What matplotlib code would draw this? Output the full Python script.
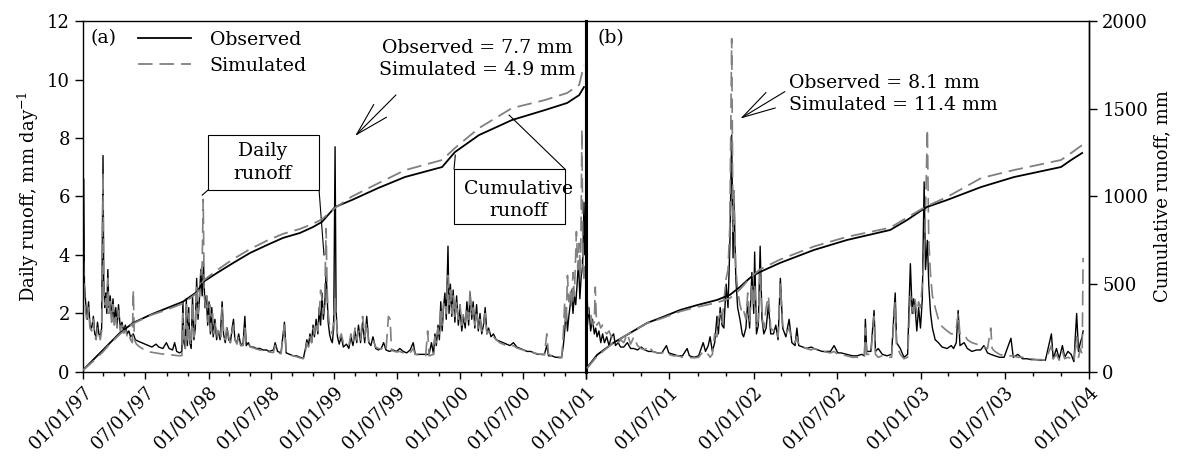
import pandas as pd
import matplotlib
matplotlib.use("Agg")
import matplotlib.pyplot as plt
from matplotlib.patches import Rectangle, FancyArrowPatch

plt.rcParams['font.family'] = 'DejaVu Serif'
plt.rcParams['mathtext.fontset'] = 'dejavuserif'
plt.rcParams['lines.scale_dashes'] = False

# ---- panel (a): 01/01/1997 - 01/01/2001, days counted from 1997-01-01 ----
obs_a_day = [0, 2, 4, 8, 12, 16, 20, 25, 30, 34, 38, 42, 46, 50, 54, 58, 60, 63, 66, 69,
             72, 75, 79, 83, 87, 91, 95, 99, 103, 108, 113, 118, 123, 128, 133, 138, 146, 152, 160, 170,
             180, 190, 200, 212, 220, 232, 242, 250, 260, 266, 272, 280, 287, 290, 293, 297, 300, 303, 307, 310,
             314, 318, 322, 326, 330, 334, 338, 342, 346, 350, 354, 358, 362, 366, 370, 374, 378, 383, 388, 393,
             398, 404, 408, 413, 418, 423, 428, 433, 437, 441, 447, 452, 458, 465, 470, 474, 480, 486, 495, 504,
             514, 523, 533, 540, 553, 558, 565, 575, 585, 590, 600, 611, 620, 630, 640, 646, 650, 655, 659, 664,
             668, 672, 677, 682, 686, 690, 694, 698, 702, 706, 709, 712, 716, 720, 724, 728, 732, 735, 739, 744,
             750, 756, 765, 772, 778, 784, 790, 795, 800, 806, 812, 818, 824, 830, 836, 842, 850, 858, 866, 873,
             880, 890, 900, 911, 920, 930, 940, 950, 959, 965, 975, 985, 995, 1005, 1012, 1018, 1022, 1026, 1031, 1035,
             1039, 1043, 1047, 1051, 1055, 1060, 1063, 1067, 1071, 1075, 1080, 1085, 1090, 1095, 1100, 1105, 1110, 1115, 1120, 1124,
             1129, 1133, 1138, 1143, 1148, 1153, 1158, 1163, 1168, 1173, 1178, 1185, 1192, 1200, 1210, 1220, 1230, 1240, 1250, 1260,
             1270, 1280, 1290, 1300, 1310, 1320, 1330, 1340, 1347, 1352, 1362, 1372, 1382, 1390, 1395, 1399, 1403, 1407, 1411, 1415,
             1419, 1423, 1427, 1431, 1435, 1439, 1443, 1447, 1451, 1455, 1458, 1460]
obs_a_val = [6.6, 6.6, 3.0, 2.3, 1.8, 2.4, 1.6, 1.5, 1.9, 1.3, 1.2, 1.7, 1.3, 1.2, 1.5, 7.4, 3.2, 2.2, 2.7, 2.0,
             3.5, 2.2, 2.6, 1.8, 2.5, 1.7, 2.2, 1.6, 2.3, 1.5, 1.7, 1.4, 1.6, 1.3, 1.4, 1.2, 1.3, 1.1, 1.05, 1.0,
             0.95, 0.9, 0.85, 0.95, 0.85, 0.8, 1.0, 0.8, 0.75, 1.0, 0.7, 0.65, 0.7, 2.4, 1.0, 0.8, 2.5, 0.9, 2.2, 1.0,
             0.8, 2.6, 1.1, 1.5, 3.2, 1.8, 2.5, 3.5, 2.6, 3.7, 2.2, 2.6, 1.6, 2.4, 1.3, 2.2, 1.2, 1.8, 1.1, 1.4,
             1.1, 2.4, 1.3, 1.0, 1.5, 1.1, 1.0, 1.5, 1.8, 1.1, 1.0, 1.3, 0.9, 1.0, 1.9, 0.9, 1.0, 0.85, 0.85, 0.8,
             0.8, 0.75, 0.75, 0.7, 0.75, 1.0, 0.7, 0.65, 1.7, 0.65, 0.6, 0.55, 0.55, 0.5, 0.47, 0.8, 1.1, 0.9, 1.3, 1.0,
             1.6, 1.2, 1.8, 1.3, 2.2, 1.6, 2.7, 1.8, 2.3, 3.4, 2.6, 1.7, 1.3, 1.1, 1.0, 1.5, 7.7, 2.1, 1.2, 0.95,
             1.2, 0.85, 0.95, 0.8, 1.2, 0.9, 1.4, 1.0, 1.6, 1.0, 1.7, 1.0, 1.9, 1.0, 0.9, 1.2, 0.8, 0.75, 0.8, 1.0,
             0.75, 0.7, 0.75, 0.7, 0.8, 0.7, 0.65, 0.75, 1.0, 0.6, 0.6, 0.6, 0.6, 0.6, 1.0, 0.6, 1.3, 0.9, 1.6, 1.1,
             2.4, 1.4, 2.2, 2.7, 1.8, 4.3, 2.0, 3.0, 1.9, 2.8, 1.7, 2.6, 1.6, 2.2, 1.4, 1.9, 1.5, 2.4, 1.6, 2.7,
             1.8, 2.4, 1.5, 2.3, 1.4, 2.0, 1.3, 1.6, 2.2, 1.3, 1.5, 1.2, 1.3, 1.1, 1.05, 1.0, 0.95, 0.9, 1.0, 0.85,
             0.8, 0.75, 0.7, 0.7, 0.65, 0.6, 0.6, 0.6, 0.9, 0.55, 0.55, 0.5, 0.5, 0.5, 0.9, 1.4, 2.2, 1.4, 1.9, 2.3,
             2.8, 2.0, 2.6, 2.3, 3.0, 3.8, 2.5, 3.3, 3.6, 5.8, 4.0, 4.6]

sim_a_day = [0, 2, 4, 8, 12, 16, 20, 25, 30, 34, 38, 42, 46, 50, 54, 58, 60, 63, 66, 69,
             72, 75, 79, 83, 87, 91, 95, 99, 103, 108, 113, 118, 123, 128, 133, 138, 143, 146, 149, 155,
             165, 175, 185, 195, 210, 225, 240, 255, 270, 280, 287, 290, 293, 297, 300, 303, 307, 310, 314, 318,
             322, 326, 330, 334, 338, 342, 346, 349, 352, 356, 360, 364, 368, 372, 376, 380, 385, 390, 395, 400,
             404, 408, 413, 418, 423, 428, 433, 437, 441, 447, 452, 458, 465, 470, 474, 480, 486, 495, 504, 514,
             523, 533, 540, 553, 558, 565, 575, 585, 590, 600, 611, 620, 630, 640, 646, 650, 655, 659, 664, 668,
             672, 677, 682, 686, 690, 694, 698, 702, 706, 709, 712, 716, 720, 724, 728, 732, 735, 739, 744, 750,
             756, 765, 772, 778, 784, 790, 795, 800, 806, 812, 818, 824, 830, 836, 842, 850, 858, 866, 873, 880,
             887, 892, 896, 900, 911, 920, 930, 940, 950, 959, 965, 975, 985, 995, 1001, 1005, 1018, 1022, 1026, 1031,
             1035, 1039, 1043, 1047, 1051, 1055, 1060, 1063, 1067, 1071, 1075, 1080, 1085, 1090, 1095, 1100, 1105, 1110, 1115, 1120,
             1124, 1129, 1133, 1138, 1143, 1148, 1153, 1158, 1163, 1168, 1173, 1178, 1185, 1192, 1200, 1210, 1220, 1230, 1240, 1250,
             1260, 1270, 1280, 1290, 1300, 1310, 1320, 1330, 1340, 1347, 1352, 1362, 1372, 1382, 1390, 1395, 1399, 1403, 1407, 1411,
             1415, 1419, 1423, 1427, 1433, 1437, 1441, 1445, 1449, 1452, 1455, 1458, 1460]
sim_a_val = [4.5, 3.5, 2.8, 2.0, 1.7, 2.2, 1.5, 1.4, 1.8, 1.2, 1.1, 1.5, 1.3, 1.1, 1.4, 6.8, 3.0, 2.3, 2.5, 2.1,
             3.2, 2.0, 2.4, 1.7, 2.3, 1.6, 2.0, 1.5, 2.1, 1.4, 1.6, 1.3, 1.5, 1.2, 1.3, 1.1, 1.0, 2.8, 1.1, 0.95,
             0.85, 0.78, 0.72, 0.68, 0.65, 0.62, 0.6, 0.58, 0.56, 0.55, 0.56, 2.0, 1.1, 0.8, 2.3, 1.0, 2.0, 1.1, 0.9, 2.4,
             1.2, 1.6, 3.0, 2.0, 2.6, 3.3, 3.7, 5.9, 2.6, 2.2, 2.6, 1.7, 2.3, 1.4, 2.0, 1.3, 1.7, 1.2, 1.5, 1.2,
             2.2, 1.4, 1.1, 1.6, 1.2, 1.0, 1.4, 1.6, 1.1, 0.95, 1.2, 0.9, 0.9, 1.5, 0.9, 0.95, 0.85, 0.82, 0.78, 0.75,
             0.72, 0.7, 0.68, 0.66, 0.9, 0.65, 0.62, 1.6, 0.62, 0.58, 0.55, 0.52, 0.48, 0.45, 0.7, 1.0, 0.85, 1.2, 1.0, 1.5,
             1.3, 1.7, 1.4, 2.0, 2.8, 2.5, 2.0, 2.6, 4.9, 2.8, 2.0, 1.6, 1.4, 1.3, 1.8, 2.6, 1.9, 1.3, 1.1, 1.3,
             1.0, 1.0, 0.9, 1.3, 1.0, 1.5, 1.1, 1.4, 1.1, 1.9, 1.2, 1.7, 1.0, 1.0, 1.1, 0.85, 0.8, 0.78, 0.85, 0.75,
             1.9, 1.8, 0.75, 0.72, 0.68, 0.7, 0.65, 0.62, 0.65, 0.8, 0.6, 0.58, 0.55, 0.55, 1.4, 0.55, 0.6, 1.2, 1.0, 1.5,
             1.3, 2.2, 1.6, 2.4, 2.4, 2.0, 3.3, 2.3, 2.8, 2.0, 2.6, 1.9, 2.4, 1.8, 2.3, 1.6, 2.0, 1.7, 2.2, 1.8,
             2.8, 1.9, 2.2, 1.6, 2.1, 1.5, 1.8, 1.4, 1.5, 2.0, 1.3, 1.4, 1.2, 1.2, 1.1, 1.0, 0.95, 0.9, 0.88, 0.9,
             0.82, 0.78, 0.74, 0.7, 0.68, 0.65, 0.62, 0.6, 0.58, 1.3, 0.6, 0.55, 0.5, 0.48, 0.48, 1.3, 2.4, 1.6, 3.3, 2.4,
             2.8, 2.2, 3.4, 2.6, 4.8, 3.5, 4.4, 3.3, 8.3, 3.6, 3.2, 3.6, 3.0]

cum_a_day = [0, 29, 58, 78, 107, 145, 195, 244, 290, 331, 349, 389, 436, 485, 534, 581, 630, 668, 694, 732,
             781, 857, 935, 1043, 1080, 1150, 1246, 1342, 1406, 1441, 1455]
cum_obs_a = [10, 68, 125, 165, 222, 279, 325, 364, 400, 456, 513, 564, 621, 678, 723, 764, 792, 826, 855, 940,
             980, 1048, 1111, 1168, 1253, 1350, 1436, 1493, 1533, 1578, 1624]
cum_sim_a = [10, 60, 115, 160, 215, 275, 322, 355, 390, 450, 520, 580, 643, 700, 748, 787, 815, 845, 870, 935,
             1000, 1075, 1150, 1208, 1276, 1390, 1504, 1550, 1590, 1636, 1749]

# ---- panel (b): 01/01/2001 - 01/01/2004, days counted from 2001-01-01 ----
obs_b_day = [0, 3, 6, 10, 14, 18, 21, 24, 28, 32, 36, 40, 45, 50, 55, 60, 64, 70, 75, 82,
             90, 97, 104, 112, 120, 128, 136, 145, 155, 165, 175, 180, 190, 200, 210, 220, 225, 235, 245, 255,
             260, 266, 270, 275, 280, 285, 288, 292, 296, 300, 305, 309, 313, 317, 320, 322, 326, 330, 335, 340,
             343, 348, 352, 356, 361, 365, 367, 371, 375, 379, 383, 387, 392, 397, 402, 408, 413, 418, 423, 428,
             435, 442, 448, 455, 459, 463, 472, 480, 490, 496, 505, 514, 522, 532, 540, 548, 555, 568, 580, 590,
             600, 606, 608, 611, 620, 627, 630, 636, 645, 655, 665, 673, 676, 684, 692, 700, 706, 710, 713, 716,
             720, 724, 728, 732, 736, 739, 743, 746, 750, 754, 760, 767, 775, 786, 795, 800, 806, 810, 814, 823,
             830, 840, 850, 859, 866, 874, 881, 890, 900, 910, 925, 930, 940, 950, 960, 969, 980, 990, 1000, 1013,
             1017, 1024, 1030, 1037, 1042, 1049, 1056, 1062, 1068, 1072, 1076, 1080, 1082]
obs_b_val = [2.5, 1.6, 2.2, 1.4, 1.8, 1.3, 1.5, 1.2, 1.4, 1.0, 1.3, 1.0, 1.2, 0.9, 1.2, 1.3, 0.9, 1.0, 0.85, 0.85,
             1.0, 0.8, 0.8, 0.75, 0.85, 0.75, 0.7, 0.7, 0.65, 0.65, 0.9, 0.65, 0.6, 0.55, 0.55, 0.8, 0.55, 0.5, 0.55, 1.0,
             0.7, 0.9, 1.2, 0.7, 1.0, 1.9, 1.3, 2.2, 1.6, 1.5, 3.0, 2.2, 4.3, 8.1, 3.9, 6.0, 3.2, 2.2, 1.8, 1.3,
             1.2, 1.5, 2.4, 1.5, 3.4, 2.0, 4.1, 1.3, 1.6, 4.3, 1.8, 1.3, 1.5, 2.3, 1.3, 1.3, 1.6, 1.1, 3.2, 1.5,
             1.2, 1.8, 1.0, 0.9, 1.5, 0.9, 0.85, 0.8, 0.85, 0.8, 0.75, 0.7, 0.7, 0.7, 0.9, 0.65, 0.65, 0.6, 0.55, 0.55,
             0.6, 0.55, 1.8, 0.7, 0.7, 2.1, 0.7, 0.8, 0.6, 0.55, 0.6, 2.7, 1.0, 0.8, 0.5, 0.6, 3.7, 2.0, 2.5, 2.3,
             1.4, 2.2, 1.5, 2.5, 6.5, 3.5, 4.5, 3.0, 2.0, 1.5, 1.1, 1.0, 0.85, 0.8, 0.9, 0.8, 1.0, 2.1, 0.9, 1.0,
             0.8, 0.7, 0.75, 0.75, 0.9, 0.65, 0.6, 0.55, 0.5, 0.5, 1.15, 0.5, 0.6, 0.45, 0.45, 0.42, 0.42, 0.4, 0.4, 1.3,
             0.45, 0.8, 0.45, 0.9, 0.5, 0.7, 0.6, 0.35, 2.0, 0.7, 1.0, 1.2, 1.4]

sim_b_day = [0, 3, 6, 10, 14, 18, 20, 23, 28, 32, 36, 40, 45, 50, 55, 60, 64, 70, 75, 82,
             90, 97, 104, 112, 120, 128, 136, 145, 155, 165, 175, 180, 190, 200, 210, 220, 235, 245, 255, 260,
             266, 270, 275, 280, 285, 288, 292, 296, 300, 305, 309, 313, 317, 320, 322, 326, 330, 335, 340, 343,
             348, 352, 356, 361, 365, 367, 371, 375, 379, 383, 387, 392, 397, 402, 408, 413, 418, 423, 428, 435,
             442, 448, 455, 459, 463, 472, 480, 490, 496, 505, 514, 522, 532, 540, 548, 555, 568, 580, 590, 600,
             606, 608, 611, 620, 627, 630, 636, 645, 655, 665, 673, 676, 684, 692, 700, 706, 710, 713, 716, 720,
             724, 728, 732, 736, 739, 743, 746, 750, 754, 760, 767, 775, 786, 795, 800, 806, 810, 814, 823, 830,
             840, 850, 859, 866, 874, 881, 884, 890, 900, 910, 925, 930, 940, 950, 960, 969, 980, 990, 1000, 1013,
             1017, 1024, 1030, 1037, 1042, 1049, 1056, 1062, 1068, 1072, 1076, 1080, 1082]
sim_b_val = [3.2, 2.3, 1.9, 2.0, 1.6, 1.7, 2.9, 1.6, 1.7, 1.5, 1.6, 1.4, 1.3, 1.4, 1.2, 1.2, 1.1, 1.0, 1.1, 1.0,
             1.3, 0.95, 1.2, 0.9, 0.8, 0.75, 0.9, 0.7, 0.65, 0.65, 0.7, 0.6, 0.55, 0.55, 0.5, 0.5, 0.48, 0.5, 0.7, 0.6,
             0.6, 0.5, 0.6, 1.3, 1.2, 1.8, 2.0, 1.7, 2.4, 3.2, 3.5, 5.0, 11.4, 4.8, 6.2, 3.5, 2.8, 2.3, 2.0, 2.1,
             1.8, 2.7, 1.7, 3.0, 2.2, 3.0, 1.5, 1.8, 3.5, 1.9, 1.5, 2.2, 2.6, 1.5, 1.4, 1.5, 1.2, 3.0, 1.6, 1.3,
             1.5, 1.1, 1.0, 1.2, 0.9, 0.85, 0.8, 0.75, 0.8, 0.75, 0.7, 0.68, 0.65, 0.7, 0.6, 0.6, 0.55, 0.5, 0.5, 0.48,
             0.5, 1.5, 0.6, 0.6, 1.9, 0.6, 0.5, 0.55, 0.5, 0.5, 2.4, 0.9, 0.6, 0.45, 0.5, 2.6, 2.2, 2.0, 2.5, 2.0,
             2.4, 2.2, 3.0, 4.0, 5.5, 8.3, 4.5, 3.3, 2.6, 2.2, 1.8, 1.55, 1.4, 1.3, 1.3, 1.5, 2.0, 1.3, 1.3, 1.1,
             1.0, 0.95, 0.9, 0.85, 0.8, 1.5, 0.8, 0.7, 0.6, 0.55, 0.55, 0.55, 0.5, 0.5, 0.45, 0.45, 0.42, 0.42, 0.4, 0.9,
             0.45, 0.6, 0.4, 0.7, 0.45, 0.5, 0.45, 0.35, 1.2, 0.5, 0.8, 0.6, 3.9]

cum_b_day = [2, 24, 59, 96, 133, 168, 205, 242, 285, 313, 335, 350, 361, 379, 422, 496, 568, 662, 699, 725,
             742, 786, 860, 932, 1034, 1056, 1080]
cum_obs_b = [23, 97, 165, 222, 279, 314, 353, 381, 410, 439, 484, 520, 545, 570, 621, 695, 752, 809, 866, 912,
             940, 980, 1054, 1111, 1168, 1208, 1248]
cum_sim_b = [20, 90, 165, 222, 278, 308, 345, 370, 395, 420, 470, 515, 545, 585, 640, 715, 770, 822, 880, 920,
             945, 997, 1105, 1151, 1208, 1248, 1293]

ticks_a = ['1997-01-01', '1997-07-01', '1998-01-01', '1998-07-01', '1999-01-01',
           '1999-07-01', '2000-01-01', '2000-07-01', '2001-01-01']
labels_a = ['01/01/97', '07/01/97', '01/01/98', '01/07/98', '01/01/99',
            '01/07/99', '01/01/00', '01/07/00', '01/01/01']
ticks_b = ['2001-01-01', '2001-07-01', '2002-01-01', '2002-07-01', '2003-01-01',
           '2003-07-01', '2004-01-01']
labels_b = ['', '01/07/01', '01/01/02', '01/07/02', '01/01/03', '01/07/03', '01/01/04']


def dates(start, days):
    return pd.Timestamp(start) + pd.to_timedelta(days, unit='D')


FS = 13      # tick labels
FT = 13.6    # annotations / legend
DASH = (10.5, 5)
GREY = '#808080'

fig = plt.figure(figsize=(11.78, 4.58), dpi=100)
axa = fig.add_axes([0.0705, 0.188, 0.427, 0.766])
axb = fig.add_axes([0.4975, 0.188, 0.427, 0.766])
axa2 = axa.twinx()
axb2 = axb.twinx()

# daily runoff
axa.plot(dates('1997-01-01', obs_a_day), obs_a_val, color='black', lw=1.0)
axa.plot(dates('1997-01-01', sim_a_day), sim_a_val, color=GREY, lw=1.2, dashes=DASH)
axb.plot(dates('2001-01-01', obs_b_day), obs_b_val, color='black', lw=1.0)
axb.plot(dates('2001-01-01', sim_b_day), sim_b_val, color=GREY, lw=1.2, dashes=DASH)

# cumulative runoff
l_obs, = axa2.plot(dates('1997-01-01', cum_a_day), cum_obs_a, color='black', lw=1.3)
l_sim, = axa2.plot(dates('1997-01-01', cum_a_day), cum_sim_a, color=GREY, lw=1.3, dashes=DASH)
axb2.plot(dates('2001-01-01', cum_b_day), cum_obs_b, color='black', lw=1.3)
axb2.plot(dates('2001-01-01', cum_b_day), cum_sim_b, color=GREY, lw=1.3, dashes=DASH)

for ax, tk, lb, lo, hi in [(axa, ticks_a, labels_a, '1997-01-01', '2001-01-01'),
                           (axb, ticks_b, labels_b, '2001-01-01', '2004-01-01')]:
    ax.set_xlim(pd.Timestamp(lo), pd.Timestamp(hi))
    ax.set_ylim(0, 12)
    ax.set_xticks(pd.to_datetime(tk))
    ax.set_xticklabels(lb, rotation=45, ha='right', rotation_mode='anchor', fontsize=FS)
    minors = pd.date_range(lo, hi, freq='2MS')
    ax.set_xticks(minors[~minors.month.isin([1, 7])], minor=True)
    ax.tick_params(axis='x', which='major', direction='out', length=5, width=1, pad=3)
    ax.tick_params(axis='x', which='minor', direction='out', length=3, width=1)
    for s in ax.spines.values():
        s.set_linewidth(1.0)

axa.set_yticks(range(0, 13, 2))
axa.tick_params(axis='y', direction='out', length=6, width=1, labelsize=FS)
axa.set_ylabel('Daily runoff, mm day$^{-1}$', fontsize=FS)
axa.spines['right'].set_linewidth(2.2)
axb.spines['left'].set_linewidth(2.2)
axb.tick_params(axis='y', left=False, labelleft=False)

for ax2 in (axa2, axb2):
    ax2.set_ylim(0, 2000)
    for s in ax2.spines.values():
        s.set_visible(False)
axa2.tick_params(axis='y', right=False, labelright=False)
axb2.spines['right'].set_visible(True)
axb2.spines['right'].set_linewidth(1.0)
axb2.set_yticks(range(0, 2001, 500))
axb2.tick_params(axis='y', direction='out', length=6, width=1, labelsize=FS)
axb2.set_ylabel('Cumulative runoff, mm', fontsize=FS)

axa.legend([l_obs, l_sim], ['Observed', 'Simulated'], loc='upper left',
           bbox_to_anchor=(0.075, 1.02), frameon=False, fontsize=FT,
           handlelength=2.8, handletextpad=1.0, labelspacing=0.4)

axa.text(0.014, 0.951, '(a)', transform=axa.transAxes, fontsize=FT, va='center')
axb.text(0.022, 0.951, '(b)', transform=axb.transAxes, fontsize=FT, va='center')

axa.text(0.783, 0.892, 'Observed = 7.7 mm\nSimulated = 4.9 mm', transform=axa.transAxes,
         fontsize=FT, ha='center', va='center', linespacing=1.3)
axb.text(0.404, 0.792, 'Observed = 8.1 mm\nSimulated = 11.4 mm', transform=axb.transAxes,
         fontsize=FT, ha='left', va='center', linespacing=1.3)

arrow_style = '->,head_length=24,head_width=6.5'
axa.add_patch(FancyArrowPatch((0.626, 0.795), (0.537, 0.667), transform=axa.transAxes,
                              arrowstyle=arrow_style, mutation_scale=1, lw=0.8, color='black'))
axb.add_patch(FancyArrowPatch((0.400, 0.803), (0.302, 0.718), transform=axb.transAxes,
                              arrowstyle=arrow_style, mutation_scale=1, lw=0.8, color='black'))

# label boxes with leader lines
axa.add_patch(Rectangle((0.2485, 0.5185), 0.2207, 0.1565, transform=axa.transAxes,
                        facecolor='white', edgecolor='black', lw=0.8, zorder=5))
axa.text(0.356, 0.597, 'Daily\nrunoff', transform=axa.transAxes, fontsize=FT,
         ha='center', va='center', linespacing=1.3, zorder=6)
axa.plot([0.2485, 0.237], [0.5185, 0.504], transform=axa.transAxes, color='black', lw=0.8)
axa.plot([0.4692, 0.479], [0.5185, 0.333], transform=axa.transAxes, color='black', lw=0.8)

axa.add_patch(Rectangle((0.7376, 0.4217), 0.2204, 0.1563, transform=axa.transAxes,
                        facecolor='white', edgecolor='black', lw=0.8, zorder=5))
axa.text(0.865, 0.49, 'Cumulative\nrunoff', transform=axa.transAxes, fontsize=FT,
         ha='center', va='center', linespacing=1.3, zorder=6)
axa.plot([0.7376, 0.740], [0.578, 0.618], transform=axa.transAxes, color='black', lw=0.8)
axa.plot([0.958, 0.847], [0.578, 0.732], transform=axa.transAxes, color='black', lw=0.8)

fig.savefig('out.png', dpi=100)
